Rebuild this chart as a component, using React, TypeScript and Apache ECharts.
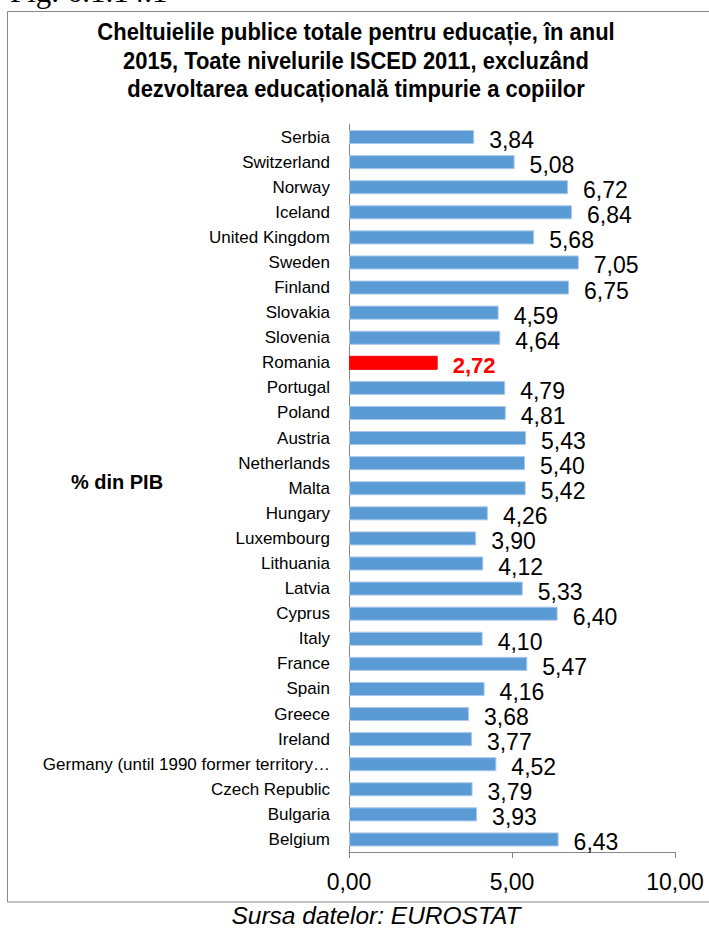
import React, { useEffect, useRef } from "react";
import * as echarts from "echarts";

const countries = [
  "Serbia", "Switzerland", "Norway", "Iceland", "United Kingdom", "Sweden", "Finland",
  "Slovakia", "Slovenia", "Romania", "Portugal", "Poland", "Austria", "Netherlands",
  "Malta", "Hungary", "Luxembourg", "Lithuania", "Latvia", "Cyprus", "Italy", "France",
  "Spain", "Greece", "Ireland", "Germany (until 1990 former territory…", "Czech Republic",
  "Bulgaria", "Belgium",
];
const values = [
  3.84, 5.08, 6.72, 6.84, 5.68, 7.05, 6.75, 4.59, 4.64, 2.72, 4.79, 4.81, 5.43, 5.40,
  5.42, 4.26, 3.90, 4.12, 5.33, 6.40, 4.10, 5.47, 4.16, 3.68, 3.77, 4.52, 3.79, 3.93, 6.43,
];
const highlighted = "Romania";
const titleLines = [
  "Cheltuielile publice totale pentru educație, în anul",
  "2015, Toate nivelurile ISCED 2011, excluzând",
  "dezvoltarea educațională timpurie a copiilor",
];
const figLabel = "Fig. 6.1.14.1";
const yAxisName = "% din PIB";
const sourceText = "Sursa datelor: EUROSTAT";

const fmt = (v: number) => v.toFixed(2).replace(".", ",");
const SANS = "'Liberation Sans', Arial, sans-serif";

export default function App() {
  const ref = useRef<HTMLDivElement>(null);
  useEffect(() => {
    if (!ref.current) return;
    const chart = echarts.init(ref.current, null, { renderer: "svg" });
    chart.setOption({
      animation: false,
      backgroundColor: "#ffffff",
      grid: { left: 349, right: 34, top: 124.5, bottom: 76, containLabel: false },
      xAxis: {
        type: "value",
        min: 0,
        max: 10,
        interval: 5,
        splitLine: { show: false },
        axisLine: { show: true, lineStyle: { color: "#868686", width: 1 } },
        axisTick: { show: true, length: 6, lineStyle: { color: "#868686" } },
        axisLabel: {
          fontFamily: SANS,
          fontSize: 23,
          color: "#000",
          margin: 18,
          formatter: (v: number) => fmt(v),
        },
      },
      yAxis: {
        type: "category",
        inverse: true,
        data: countries,
        axisLine: { show: true, lineStyle: { color: "#868686", width: 1 } },
        axisTick: { show: false },
        axisLabel: { fontFamily: SANS, fontSize: 17, color: "#000", margin: 19 },
      },
      series: [
        {
          type: "bar",
          barCategoryGap: "44%",
          data: values.map((v, i) => {
            const hi = countries[i] === highlighted;
            return {
              value: v,
              itemStyle: {
                color: hi ? "#ff0000" : "#5b9bd5",
                borderColor: hi ? "#ff0000" : "#a9c8ea",
                borderWidth: 1,
              },
              label: hi
                ? { color: "#ff0000", fontWeight: "bold", fontSize: 22, fontFamily: SANS }
                : undefined,
            };
          }),
          label: {
            show: true,
            position: "right",
            distance: 15,
            fontFamily: SANS,
            fontSize: 23,
            color: "#000",
            offset: [0, 3],
            formatter: (p: any) => fmt(p.value),
          },
        },
      ],
      graphic: [
        {
          type: "rect",
          shape: { x: 7.5, y: 11.5, width: 720, height: 890.5 },
          style: { fill: "none", stroke: "#868686", lineWidth: 1 },
          z: -1,
        },
        {
          type: "text",
          x: 10,
          y: 7,
          style: {
            text: figLabel,
            font: "31px 'Liberation Serif', 'Times New Roman', serif",
            fill: "#000",
            textVerticalAlign: "bottom",
          },
        },
        {
          type: "text",
          x: 356,
          y: 17.5,
          scaleX: 0.915,
          style: {
            text: titleLines.join("\n"),
            font: "bold 24px " + SANS,
            lineHeight: 28.5,
            fill: "#000",
            textAlign: "center",
            textVerticalAlign: "top",
          },
        },
        {
          type: "text",
          x: 117,
          y: 482,
          style: {
            text: yAxisName,
            font: "bold 20px " + SANS,
            fill: "#000",
            textAlign: "center",
            textVerticalAlign: "middle",
          },
        },
        {
          type: "text",
          x: 376,
          y: 915,
          style: {
            text: sourceText,
            font: "italic 24.5px " + SANS,
            fill: "#000",
            textAlign: "center",
            textVerticalAlign: "middle",
          },
        },
      ],
    });
    return () => chart.dispose();
  }, []);
  return (
    <div
      ref={ref}
      style={{ position: "absolute", left: 0, top: 0, width: 709, height: 928 }}
    />
  );
}
